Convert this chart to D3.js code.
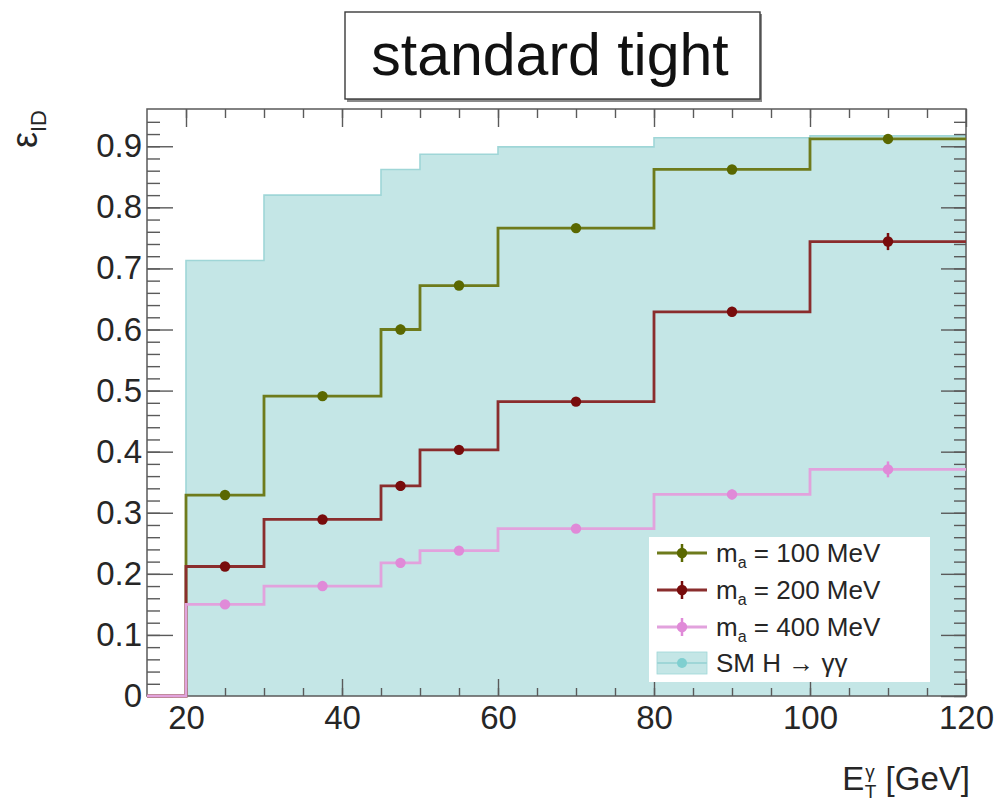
<!DOCTYPE html>
<html>
<head>
<meta charset="utf-8">
<script src="https://cdn.jsdelivr.net/npm/d3@7"></script>
<style>
  html, body { margin:0; padding:0; background:#fff; }
  svg { display:block; font-family:"Liberation Sans", Arial, Helvetica, sans-serif; }
</style>
</head>
<body>
<svg id="chart" width="1002" height="803"></svg>
<script>
// ═══════════════════════════════════════════
//  DATA
// ═══════════════════════════════════════════
const binEdges = [20, 30, 45, 50, 60, 80, 100, 120];
const binCenters = [25, 37.5, 47.5, 55, 70, 90, 110];

const effSM   = [0.713, 0.820, 0.862, 0.887, 0.899, 0.914, 0.917];
const eff100  = [0.329, 0.491, 0.600, 0.672, 0.766, 0.862, 0.912];
const eff200  = [0.212, 0.289, 0.344, 0.403, 0.482, 0.629, 0.744];
const eff400  = [0.150, 0.180, 0.218, 0.238, 0.274, 0.330, 0.371];
const err100  = [0.006, 0.006, 0.008, 0.006, 0.006, 0.006, 0.008];
const err200  = [0.006, 0.006, 0.008, 0.006, 0.006, 0.008, 0.014];
const err400  = [0.006, 0.006, 0.008, 0.006, 0.006, 0.008, 0.013];

const seriesNames = ['100', '200', '400'];
const xTicksMajor = [20, 40, 60, 80, 100, 120];
const yTicksMajor = [0, 0.1, 0.2, 0.3, 0.4, 0.5, 0.6, 0.7, 0.8, 0.9];

// ═══════════════════════════════════════════
//  LAYOUT
// ═══════════════════════════════════════════
const L = 147, R = 966, T = 109, B = 696;
const svg = d3.select('#chart');

const x = d3.scaleLinear().domain([15, 120]).range([L, R]);
const y = d3.scaleLinear().domain([0, 0.961]).range([B, T]);

const COL = {
  smFill:'#c4e6e6', smLine:'#9fd6d7', smMark:'#7fcfd0',
  olive:'#6e7b1c', oliveM:'#5a6800',
  red:'#8a2d2d',   redM:'#780c0c',
  pink:'#e2a2dd',  pinkM:'#e08ad8',
  axis:'#5a5a5a',  text:'#262626'
};

const series = [
  { name:seriesNames[0], vals:eff100, errs:err100, line:COL.olive, mark:COL.oliveM },
  { name:seriesNames[1], vals:eff200, errs:err200, line:COL.red,   mark:COL.redM },
  { name:seriesNames[2], vals:eff400, errs:err400, line:COL.pink,  mark:COL.pinkM },
];

// ═══════════════════════════════════════════
//  SM H→γγ FILL
// ═══════════════════════════════════════════
const smPts = binEdges.map((e, i) => [e, effSM[Math.min(i, effSM.length - 1)]]);

svg.append('path')
  .datum(smPts)
  .attr('d', d3.area().curve(d3.curveStepAfter)
    .x(d => x(d[0])).y0(y(0)).y1(d => y(d[1])))
  .attr('fill', COL.smFill);

svg.append('path')
  .datum([[binEdges[0], 0], ...smPts])
  .attr('d', d3.line().curve(d3.curveStepAfter).x(d => x(d[0])).y(d => y(d[1])))
  .attr('fill', 'none')
  .attr('stroke', COL.smLine)
  .attr('stroke-width', 1.6);

// ═══════════════════════════════════════════
//  AXES + FRAME
// ═══════════════════════════════════════════
const xMinor = d3.range(20, 120, 5);
const yMinor = d3.range(0, 0.96, 0.02);

function axisStyle(g) {
  g.select('.domain').remove();
  g.selectAll('line').attr('stroke', COL.axis).attr('stroke-width', 1.4);
  g.selectAll('text').attr('fill', COL.text).attr('font-size', 33);
}

// bottom
svg.append('g').attr('transform', `translate(0,${B})`)
  .call(d3.axisBottom(x).tickValues(xMinor).tickSizeInner(-8).tickSizeOuter(0).tickFormat(''))
  .call(axisStyle);
svg.append('g').attr('transform', `translate(0,${B})`)
  .call(d3.axisBottom(x).tickValues(xTicksMajor).tickSizeInner(-17).tickSizeOuter(0).tickPadding(10)
    .tickFormat(d3.format('d')))
  .call(axisStyle);
// top (mirrored ticks)
svg.append('g').attr('transform', `translate(0,${T})`)
  .call(d3.axisTop(x).tickValues(xMinor).tickSizeInner(-9).tickSizeOuter(0).tickFormat(''))
  .call(axisStyle);
svg.append('g').attr('transform', `translate(0,${T})`)
  .call(d3.axisTop(x).tickValues(xTicksMajor).tickSizeInner(-18).tickSizeOuter(0).tickFormat(''))
  .call(axisStyle);
// left
svg.append('g').attr('transform', `translate(${L},0)`)
  .call(d3.axisLeft(y).tickValues(yMinor).tickSizeInner(-13).tickSizeOuter(0).tickFormat(''))
  .call(axisStyle);
svg.append('g').attr('transform', `translate(${L},0)`)
  .call(d3.axisLeft(y).tickValues(yTicksMajor).tickSizeInner(-26).tickSizeOuter(0).tickPadding(5)
    .tickFormat(d => d === 0 ? '0' : d3.format('.1f')(d)))
  .call(axisStyle);
// right
svg.append('g').attr('transform', `translate(${R},0)`)
  .call(d3.axisRight(y).tickValues(yMinor).tickSizeInner(-12).tickSizeOuter(0).tickFormat(''))
  .call(axisStyle);
svg.append('g').attr('transform', `translate(${R},0)`)
  .call(d3.axisRight(y).tickValues(yTicksMajor).tickSizeInner(-25).tickSizeOuter(0).tickFormat(''))
  .call(axisStyle);

svg.append('rect')
  .attr('x', L).attr('y', T).attr('width', R - L).attr('height', B - T)
  .attr('fill', 'none').attr('stroke', COL.axis).attr('stroke-width', 1.5);

// ═══════════════════════════════════════════
//  HISTOGRAM STEPS (first bin 15–20 empty), drawn over the frame
// ═══════════════════════════════════════════
const stepLine = d3.line().curve(d3.curveStepAfter)
  .x(d => x(d[0])).y(d => y(d[1]));

series.forEach(s => {
  const pts = [[15, 0], ...binEdges.map((e, i) => [e, s.vals[Math.min(i, s.vals.length - 1)]])];
  svg.append('path')
    .datum(pts)
    .attr('d', stepLine)
    .attr('fill', 'none')
    .attr('stroke', s.line)
    .attr('stroke-width', 2.8);
});

series.forEach(s => {
  const g = svg.append('g');
  binCenters.forEach((c, i) => {
    g.append('line')
      .attr('x1', x(c)).attr('x2', x(c))
      .attr('y1', y(s.vals[i] - s.errs[i])).attr('y2', y(s.vals[i] + s.errs[i]))
      .attr('stroke', s.mark).attr('stroke-width', 2.5);
    g.append('circle')
      .attr('cx', x(c)).attr('cy', y(s.vals[i]))
      .attr('r', 5.2)
      .attr('fill', s.mark);
  });
});

// axis titles
const yt = svg.append('text')
  .attr('transform', 'translate(37,110) rotate(-90)')
  .attr('text-anchor', 'end')
  .attr('fill', COL.text);
yt.append('tspan').attr('font-size', 36).text('ε');
yt.append('tspan').attr('font-size', 22).attr('dy', 9).text('ID');

const xt = svg.append('text')
  .attr('x', 970).attr('y', 790)
  .attr('text-anchor', 'end')
  .attr('fill', COL.text)
  .attr('font-size', 33);
xt.append('tspan').text('E');
xt.append('tspan').attr('font-size', 19).attr('dx', 1).attr('dy', -12).text('γ');
xt.append('tspan').attr('font-size', 19).attr('dx', -10).attr('dy', 20).text('T');
xt.append('tspan').attr('dy', -8).text(' [GeV]');

// ═══════════════════════════════════════════
//  TITLE BOX
// ═══════════════════════════════════════════
svg.append('rect')
  .attr('x', 347).attr('y', 14).attr('width', 415).attr('height', 88)
  .attr('fill', '#8a8a8a');
svg.append('rect')
  .attr('x', 345).attr('y', 12).attr('width', 415).attr('height', 87)
  .attr('fill', '#fff').attr('stroke', '#3a3a3a').attr('stroke-width', 1.4);
svg.append('text')
  .attr('x', 550).attr('y', 75)
  .attr('text-anchor', 'middle')
  .attr('font-size', 59)
  .attr('fill', '#111')
  .text('standard tight');

// ═══════════════════════════════════════════
//  LEGEND
// ═══════════════════════════════════════════
const leg = svg.append('g');
leg.append('rect')
  .attr('x', 649).attr('y', 537).attr('width', 281).attr('height', 145)
  .attr('fill', '#fff');

const rowY = [553, 590, 627, 663];
series.forEach((s, i) => {
  const yy = rowY[i];
  leg.append('line').attr('x1', 657).attr('x2', 707).attr('y1', yy).attr('y2', yy)
    .attr('stroke', s.line).attr('stroke-width', 2.8);
  leg.append('line').attr('x1', 682).attr('x2', 682).attr('y1', yy - 9).attr('y2', yy + 9)
    .attr('stroke', s.mark).attr('stroke-width', 2.5);
  leg.append('circle').attr('cx', 682).attr('cy', yy).attr('r', 5.2).attr('fill', s.mark);
  const t = leg.append('text').attr('x', 716).attr('y', yy + 9)
    .attr('font-size', 26).attr('fill', COL.text);
  t.append('tspan').text('m');
  t.append('tspan').attr('font-size', 16).attr('dy', 6).text('a');
  t.append('tspan').attr('dy', -6).text(` = ${s.name} MeV`);
});

{
  const yy = rowY[3];
  leg.append('rect').attr('x', 657).attr('y', yy - 11).attr('width', 50).attr('height', 22)
    .attr('fill', COL.smFill).attr('stroke', COL.smLine).attr('stroke-width', 0.8);
  leg.append('line').attr('x1', 657).attr('x2', 707).attr('y1', yy).attr('y2', yy)
    .attr('stroke', COL.smLine).attr('stroke-width', 2);
  leg.append('circle').attr('cx', 682).attr('cy', yy).attr('r', 5).attr('fill', COL.smMark);
  leg.append('text').attr('x', 716).attr('y', yy + 9)
    .attr('font-size', 26).attr('fill', COL.text)
    .text('SM H → γγ');
}
</script>
</body>
</html>
